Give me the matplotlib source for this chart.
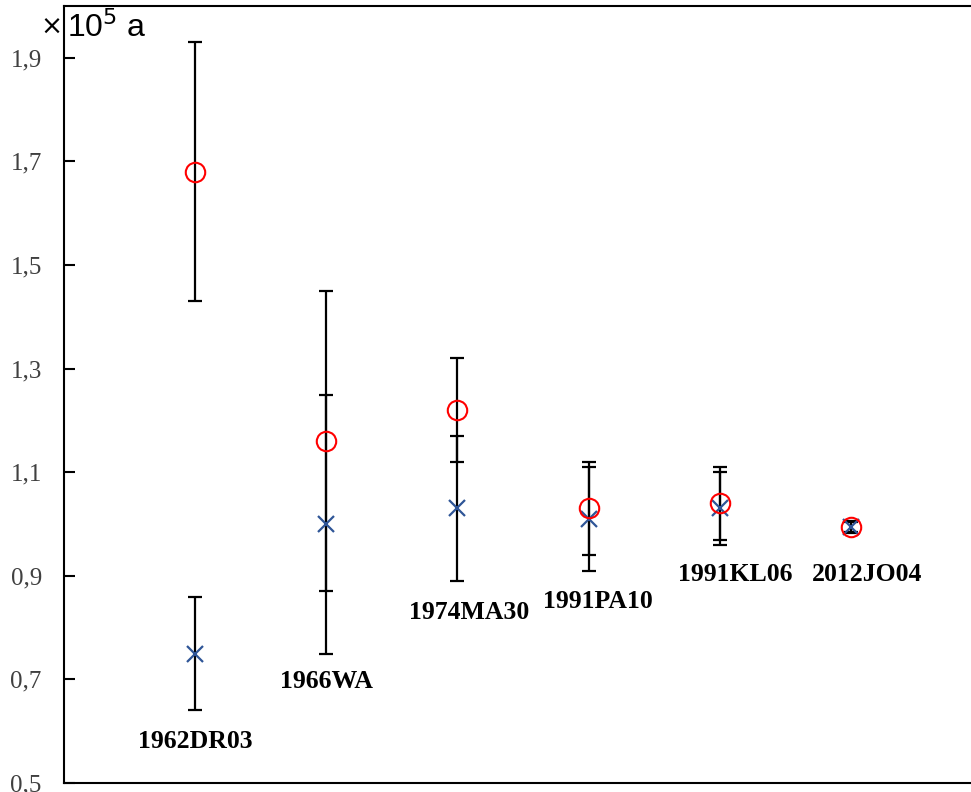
import matplotlib
matplotlib.use("Agg")
import matplotlib.pyplot as plt
from matplotlib.ticker import FuncFormatter

# data (units of 10^5 a)
names = ["1962DR03", "1966WA", "1974MA30", "1991PA10", "1991KL06", "2012JO04"]
circle_vals = [1.68, 1.16, 1.22, 1.03, 1.04, 0.995]
circle_lo = [1.43, 0.87, 1.12, 0.94, 0.97, 0.983]
circle_hi = [1.93, 1.45, 1.32, 1.12, 1.11, 1.006]
cross_vals = [0.75, 1.00, 1.03, 1.01, 1.03, 0.995]
cross_lo = [0.64, 0.75, 0.89, 0.91, 0.96, 0.985]
cross_hi = [0.86, 1.25, 1.17, 1.11, 1.10, 1.004]
label_y = [0.58, 0.695, 0.83, 0.851, 0.903, 0.903]
label_dx = [0, 0, 0.09, 0.07, 0.12, 0.12]

xs = list(range(1, len(names) + 1))

fig = plt.figure(figsize=(9.71, 7.92), dpi=100)
ax = fig.add_axes([64 / 971, 9 / 792, (971 - 64) / 971, 777 / 792])

err_kw = dict(fmt="none", ecolor="black", elinewidth=1.6, capsize=5, capthick=1.6, zorder=2)
ax.errorbar(xs, circle_vals,
            yerr=[[v - l for v, l in zip(circle_vals, circle_lo)],
                  [h - v for v, h in zip(circle_vals, circle_hi)]], **err_kw)
ax.errorbar(xs, cross_vals,
            yerr=[[v - l for v, l in zip(cross_vals, cross_lo)],
                  [h - v for v, h in zip(cross_vals, cross_hi)]], **err_kw)

ax.plot(xs, cross_vals, linestyle="none", marker="x", markersize=12,
        markeredgewidth=1.6, color="#2f5597", zorder=3)
ax.plot(xs, circle_vals, linestyle="none", marker="o", markersize=14,
        markerfacecolor="none", markeredgewidth=1.5, markeredgecolor="red", zorder=4)

for x, y, dx, n in zip(xs, label_y, label_dx, names):
    ax.text(x + dx, y, n, ha="center", va="center", fontsize=18.5,
            fontweight="bold", family="Liberation Serif", color="black")

ax.set_xlim(0, 1 + (971 - 196) / 131)
ax.set_ylim(0.5, 2.0)
ax.set_yticks([0.5, 0.7, 0.9, 1.1, 1.3, 1.5, 1.7, 1.9])
ax.yaxis.set_major_formatter(FuncFormatter(lambda v, p: ("%.1f" % v).replace(".", ",")))
ax.set_xticks([])
ax.tick_params(axis="y", direction="in", length=8, width=1.5, pad=16,
               labelsize=18, labelcolor="#404040")
for lab in ax.get_yticklabels():
    lab.set_family("Liberation Serif")

for side in ["left", "bottom", "top"]:
    ax.spines[side].set_linewidth(1.5)
ax.spines["right"].set_visible(False)

# unit label at the top-left corner
fig.text(40 / 971, 1 - 35 / 792, "×", fontsize=19,
         family="DejaVu Sans", va="baseline", ha="left")
fig.text(67 / 971, 1 - 37 / 792, r"10$^{5}$ a", fontsize=23,
         family="Liberation Sans", va="baseline", ha="left")

fig.savefig("out.png", dpi=100)
